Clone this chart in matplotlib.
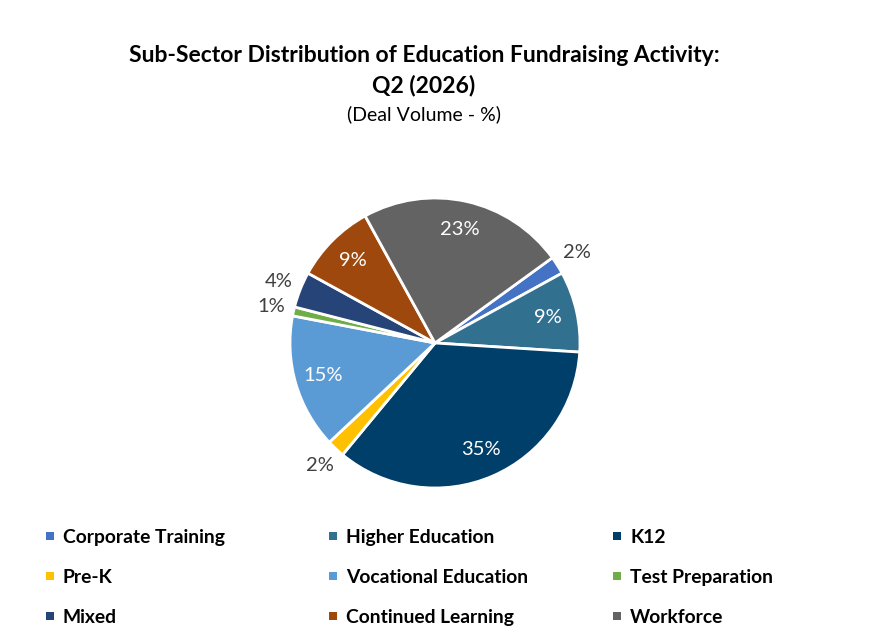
import numpy as np
import matplotlib
matplotlib.use("Agg")
import matplotlib.pyplot as plt

categories = ["Corporate Training", "Higher Education", "K12", "Pre-K",
              "Vocational Education", "Test Preparation", "Mixed",
              "Continued Learning", "Workforce"]
values = [2, 9, 35, 2, 15, 1, 4, 9, 23]
colors = ["#4472C4", "#31708F", "#003F69", "#FFC000", "#5B9BD5",
          "#70AD47", "#264478", "#9E480E", "#636363"]

plt.rcParams['font.family'] = ['Lato', 'DejaVu Sans']

W, H = 871, 638
fig = plt.figure(figsize=(W / 100, H / 100), dpi=100)

cx, cy, r = 435, 343, 145
ax = fig.add_axes([(cx - r) / W, (H - cy - r) / H, 2 * r / W, 2 * r / H])
wedges, texts, autotexts = ax.pie(
    values, colors=colors, startangle=36, counterclock=False,
    radius=1, autopct='%1.0f%%', pctdistance=0.8,
    wedgeprops=dict(edgecolor='white', linewidth=2),
    textprops=dict(fontsize=14.5, color='white'))
for w, t, v in zip(wedges, autotexts, values):
    if v < 5:
        ang = np.deg2rad((w.theta1 + w.theta2) / 2)
        t.set_position((1.16 * np.cos(ang), 1.16 * np.sin(ang)))
        t.set_color('#404040')
ax.set_xlim(-1, 1)
ax.set_ylim(-1, 1)
ax.set_aspect('equal')
ax.axis('off')

fig.text(424 / W, 1 - 56 / H, "Sub-Sector Distribution of Education Fundraising Activity:",
         ha='center', va='center', fontsize=16.5, fontweight='bold', color='black')
fig.text(424 / W, 1 - 85 / H, "Q2 (2026)", ha='center', va='center',
         fontsize=16.5, fontweight='bold', color='black')
fig.text(424 / W, 1 - 114 / H, "(Deal Volume - %)", ha='center', va='center',
         fontsize=14, color='black')

xs = [50, 333, 617]
ys = [536, 576, 616]
for i, (cat, col) in enumerate(zip(categories, colors)):
    row, c = divmod(i, 3)
    x, y = xs[c], ys[row]
    fig.patches.append(matplotlib.patches.Rectangle(
        ((x - 4) / W, 1 - (y + 4) / H), 8 / W, 8 / H,
        transform=fig.transFigure, facecolor=col, edgecolor='none'))
    fig.text((x + 13) / W, 1 - (y + 7) / H, cat, ha='left', va='baseline',
             fontsize=13.9, fontweight='bold', color='black')

fig.savefig("out.png", dpi=100)
